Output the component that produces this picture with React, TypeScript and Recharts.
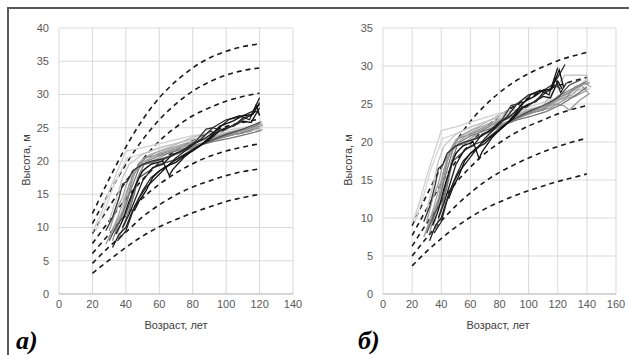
import { LineChart, Line, XAxis, YAxis, CartesianGrid } from "recharts";

type Pt = [number, number];

// site index curves (dashed)
const agesA = [20, 30, 40, 50, 60, 70, 80, 90, 100, 110, 120];
const curvesA: number[][] = [
  [3.1, 5.1, 7.0, 8.7, 10.1, 11.2, 12.2, 13.1, 13.9, 14.5, 15.0],
  [4.6, 7.1, 9.3, 11.6, 13.4, 14.9, 16.1, 17.0, 17.8, 18.4, 18.8],
  [6.1, 9.0, 11.8, 14.4, 16.5, 18.2, 19.6, 20.7, 21.5, 22.1, 22.6],
  [7.6, 11.0, 14.3, 17.2, 19.7, 21.6, 23.1, 24.3, 25.2, 25.8, 26.3],
  [9.1, 13.1, 16.9, 20.2, 23.0, 25.1, 26.8, 28.0, 29.0, 29.7, 30.2],
  [10.6, 15.2, 19.5, 23.2, 26.2, 28.6, 30.5, 31.9, 32.9, 33.6, 34.0],
  [12.1, 17.3, 22.1, 26.2, 29.5, 32.0, 34.0, 35.5, 36.5, 37.2, 37.6],
];

const agesB = [20, 30, 40, 50, 60, 70, 80, 90, 100, 110, 120, 130, 140];
const curvesB: number[][] = [
  [3.7, 5.6, 7.3, 8.8, 10.1, 11.2, 12.1, 12.9, 13.6, 14.2, 14.8, 15.3, 15.8],
  [5.0, 7.4, 9.6, 11.6, 13.3, 14.8, 16.0, 17.0, 17.9, 18.7, 19.4, 20.0, 20.5],
  [6.3, 9.3, 12.1, 14.6, 16.7, 18.5, 19.9, 21.1, 22.1, 22.9, 23.7, 24.3, 24.8],
  [7.7, 11.2, 14.5, 17.4, 19.8, 21.8, 23.4, 24.7, 25.8, 26.7, 27.4, 28.0, 28.5],
  [9.0, 13.0, 16.7, 20.0, 22.7, 24.8, 26.5, 27.9, 29.0, 29.9, 30.7, 31.3, 31.8],
];

// observed height trajectories, panel a
const light1: Pt[] = [[20, 9.3], [25, 12], [30, 15.5], [35, 18.5], [40, 21.5], [50, 22], [60, 22.6], [70, 23.2], [80, 23.8], [90, 24.2], [100, 24.6], [110, 25], [122, 25.3]];
const light2: Pt[] = [[22, 9.5], [28, 13], [33, 16.5], [38, 19], [41, 20.5], [45, 20.7], [55, 21.5], [65, 22.3], [75, 23], [85, 23.6], [95, 24], [105, 24.5], [115, 24.8], [122, 25]];
const light3: Pt[] = [[30, 11], [35, 14.8], [38, 17.5], [42, 19.5], [50, 21], [60, 22], [70, 22.6], [80, 23.3], [90, 23.7], [100, 24.2], [110, 24.6], [122, 24.7]];
const light4: Pt[] = [[35, 9], [40, 13], [45, 18], [50, 20.2], [60, 21.5], [70, 22.5], [80, 23.6], [90, 24.2], [100, 24.3], [110, 24.8], [122, 25.6]];

const mid1: Pt[] = [[30, 8.5], [35, 11.5], [40, 15], [45, 18.5], [50, 20.3], [55, 21], [60, 21.5], [70, 22.2], [80, 23], [90, 23.5], [100, 24], [110, 24.5], [120, 25.2]];
const mid2: Pt[] = [[32, 8], [36, 11], [40, 13.5], [44, 17.5], [48, 19.5], [52, 20.5], [60, 21], [70, 21.8], [80, 22.7], [90, 23.4], [100, 23.9], [110, 24.6], [120, 25.5]];
const mid3: Pt[] = [[28, 7.5], [33, 10], [38, 12.5], [42, 16.5], [46, 18.5], [50, 19.5], [58, 20.2], [68, 21.5], [78, 22.5], [88, 23.2], [98, 23.6], [108, 24.2], [120, 25]];
const mid4: Pt[] = [[34, 9.5], [38, 12], [42, 15], [45, 17], [48, 19], [53, 20], [60, 20.8], [70, 21.5], [80, 22.3], [90, 23], [100, 23.8], [110, 24.2], [121, 25.8]];
const mid5: Pt[] = [[36, 8.5], [40, 11], [44, 14.5], [47, 17.5], [52, 19], [58, 20], [65, 20.5], [75, 21.8], [85, 22.6], [95, 23.3], [105, 24], [115, 24.5], [121, 26]];
const mid6: Pt[] = [[30, 9.5], [34, 12.5], [38, 14.5], [41, 17], [44, 18], [50, 19.8], [60, 21.2], [70, 22], [80, 22.8], [92, 23.5], [102, 24.3], [112, 24.6], [122, 25.4]];
const mid7: Pt[] = [[38, 10], [42, 12.5], [45, 15], [48, 18], [51, 19.5], [56, 19.8], [64, 20.6], [72, 21.2], [82, 22.2], [92, 22.9], [102, 23.4], [112, 24], [121, 24.6]];
const dark1: Pt[] = [[30, 8], [35, 10.5], [40, 12], [44, 15], [48, 17.5], [52, 18.2], [60, 19.5], [70, 20.2], [80, 21.8], [90, 23], [100, 24], [110, 24.8], [120, 25.8]];

const black1: Pt[] = [[32, 7], [36, 9], [40, 10], [44, 12.5], [48, 14.5], [52, 16], [56, 17], [60, 18], [66, 19.5], [72, 20.5], [80, 21.5], [88, 23], [95, 24.5], [100, 25], [105, 25.3], [110, 26.5], [115, 26.8], [120, 29.5]];
const black2: Pt[] = [[35, 8], [40, 9.5], [45, 13], [50, 15.5], [55, 17.5], [60, 18.5], [65, 19.2], [70, 20.5], [78, 22], [85, 23.3], [92, 25], [100, 26.2], [106, 26.5], [112, 27], [116, 27.5], [120, 28.5]];
const black3: Pt[] = [[34, 9], [38, 11], [42, 14], [46, 16.5], [50, 18.5], [55, 19.5], [62, 20], [66, 17.8], [68, 18.7], [75, 20.6], [82, 22], [90, 23.2], [96, 24.5], [104, 25.3], [110, 26], [115, 25.8], [120, 28]];
const black4: Pt[] = [[28, 9.5], [32, 11.5], [36, 14.5], [38, 16.5], [41, 17], [44, 18.5], [50, 19.5], [56, 20], [62, 20.3], [68, 20.8], [75, 21.8], [82, 23], [88, 24.8], [92, 25], [98, 24.5], [105, 25.5], [112, 26.5], [118, 27.5], [120, 27]];
const black5: Pt[] = [[38, 10], [42, 12], [46, 14.5], [50, 17], [56, 19], [62, 19.5], [68, 21], [74, 21.5], [80, 22.5], [88, 23.5], [95, 24.8], [102, 26.3], [108, 26.8], [114, 26.2], [118, 28.5], [120, 26.8]];
const black6: Pt[] = [[45, 12.5], [48, 14], [52, 15.5], [56, 17.5], [60, 18.5], [64, 19.2], [70, 19.8], [76, 21], [84, 22.2], [90, 23.5], [96, 25.2], [104, 26], [110, 26.8], [116, 27], [120, 28.8]];

const upTo = (t: Pt[], age: number) => t.filter((p) => p[0] <= age);

// panel b: same stands, longer records
const light1b: Pt[] = [...upTo(light1, 100), [110, 25.2], [120, 25.8], [130, 26.5], [140, 27.3]];
const light2b: Pt[] = [...upTo(light2, 105), [115, 24.9], [125, 26], [132, 27], [140, 28.3]];
const light3b: Pt[] = [...upTo(light3, 100), [110, 24.6], [120, 25.5], [130, 26.8], [142, 27]];
const light4b: Pt[] = [...upTo(light4, 100), [110, 24.8], [120, 27.5], [125, 28.8], [140, 28.8], [141, 27.5]];
const mid1b: Pt[] = [...upTo(mid1, 100), [110, 24.5], [120, 25.6], [130, 26.2], [138, 27.8], [143, 27.2]];
const mid2b: Pt[] = [...upTo(mid2, 100), [110, 24.6], [120, 25.8], [128, 26.5], [136, 27.5], [141, 26.5]];
const mid3b: Pt[] = [...upTo(mid3, 98), [108, 24.2], [118, 25], [124, 24.8], [128, 24.2], [135, 25.5], [142, 26.4]];
const mid4b: Pt[] = [...upTo(mid4, 100), [110, 24.2], [120, 26], [130, 27], [140, 28]];
const mid5b: Pt[] = [...upTo(mid5, 105), [115, 24.5], [125, 25.6], [132, 27.3], [142, 27.8]];
const mid6b: Pt[] = [...upTo(mid6, 102), [112, 24.6], [122, 25.6], [132, 26], [140, 26.8]];
const mid7b: Pt[] = [...upTo(mid7, 102), [112, 24], [122, 24.9], [131, 26], [140, 27.2]];
const dark1b: Pt[] = [...upTo(dark1, 100), [110, 24.8], [120, 25.8], [128, 27.5], [136, 28.2]];
const black1b: Pt[] = [...upTo(black1, 115), [120, 29.8]];
const black2b: Pt[] = [...upTo(black2, 116), [120, 28.5], [125, 30.2]];
const black3b: Pt[] = [...upTo(black3, 120), [123, 27]];
const black4b: Pt[] = [...upTo(black4, 112), [118, 27.5], [122, 27]];
const black5b: Pt[] = [...upTo(black5, 114), [118, 28.5], [122, 26.5], [126, 27.8]];
const black6b: Pt[] = [...upTo(black6, 110), [116, 27], [121, 29.5], [124, 27.2]];

const tracksA: [Pt[], string][] = [
  [light1, "#d0d0d0"], [light2, "#d6d6d6"], [light3, "#c4c4c4"], [light4, "#bdbdbd"],
  [mid1, "#a6a6a6"], [mid2, "#8c8c8c"], [mid3, "#9a9a9a"], [mid4, "#7f7f7f"],
  [mid5, "#8f8f8f"], [mid6, "#a0a0a0"], [mid7, "#767676"], [dark1, "#4d4d4d"],
  [black1, "#1a1a1a"], [black2, "#262626"], [black3, "#111111"], [black4, "#333333"],
  [black5, "#1f1f1f"], [black6, "#0d0d0d"],
];
const tracksB: [Pt[], string][] = [
  [light1b, "#d0d0d0"], [light2b, "#d6d6d6"], [light3b, "#c4c4c4"], [light4b, "#bdbdbd"],
  [mid1b, "#a6a6a6"], [mid2b, "#8c8c8c"], [mid3b, "#9a9a9a"], [mid4b, "#7f7f7f"],
  [mid5b, "#8f8f8f"], [mid6b, "#a0a0a0"], [mid7b, "#767676"], [dark1b, "#4d4d4d"],
  [black1b, "#1a1a1a"], [black2b, "#262626"], [black3b, "#111111"], [black4b, "#333333"],
  [black5b, "#1f1f1f"], [black6b, "#0d0d0d"],
];

const xTicksA = [0, 20, 40, 60, 80, 100, 120, 140];
const yTicksA = [0, 5, 10, 15, 20, 25, 30, 35, 40];
const xTicksB = [0, 20, 40, 60, 80, 100, 120, 140, 160];
const yTicksB = [0, 5, 10, 15, 20, 25, 30, 35];

const tickStyle = { fill: "#595959", fontSize: 11 };

interface PanelProps {
  left: number;
  width: number;
  marginLeft: number;
  marginRight: number;
  xTicks: number[];
  yTicks: number[];
  ages: number[];
  curves: number[][];
  tracks: [Pt[], string][];
}

function Panel({ left, width, marginLeft, marginRight, xTicks, yTicks, ages, curves, tracks }: PanelProps) {
  return (
    <div style={{ position: "absolute", left, top: 0 }}>
      <LineChart
        width={width}
        height={320}
        margin={{ top: 28, right: marginRight, bottom: 6, left: marginLeft }}
      >
        <CartesianGrid stroke="#d9d9d9" strokeWidth={1} />
        <XAxis
          type="number"
          dataKey="x"
          domain={[0, xTicks[xTicks.length - 1]]}
          ticks={xTicks}
          tick={tickStyle}
          tickLine={false}
          tickMargin={0}
          axisLine={{ stroke: "#bfbfbf" }}
          height={20}
          allowDataOverflow
        />
        <YAxis
          type="number"
          domain={[0, yTicks[yTicks.length - 1]]}
          ticks={yTicks}
          tick={tickStyle}
          tickLine={false}
          tickMargin={4}
          axisLine={false}
          width={30}
        />
        {curves.map((c, i) => (
          <Line
            key={"c" + i}
            data={ages.map((a, j) => ({ x: a, y: c[j] }))}
            dataKey="y"
            type="monotone"
            stroke="#1a1a1a"
            strokeWidth={1.6}
            strokeDasharray="5 4"
            dot={false}
            isAnimationActive={false}
          />
        ))}
        {tracks.map(([t, color], i) => (
          <Line
            key={"t" + i}
            data={t.map(([x, y]) => ({ x, y }))}
            dataKey="y"
            type="linear"
            stroke={color}
            strokeWidth={1.3}
            dot={false}
            isAnimationActive={false}
          />
        ))}
      </LineChart>
    </div>
  );
}

const label: React.CSSProperties = {
  position: "absolute",
  fontSize: 11,
  color: "#404040",
  whiteSpace: "nowrap",
};

const letter: React.CSSProperties = {
  position: "absolute",
  fontFamily: "'Liberation Serif', 'Times New Roman', serif",
  fontWeight: "bold",
  fontStyle: "italic",
  fontSize: 26,
  color: "#000",
  lineHeight: "26px",
};

export default function App() {
  return (
    <div
      style={{
        position: "absolute",
        left: 0,
        top: 0,
        width: 629,
        height: 355,
        background: "#fff",
        overflow: "hidden",
        fontFamily: "'Liberation Sans', Arial, sans-serif",
      }}
    >
      <div
        style={{
          position: "absolute",
          left: 7,
          top: 7,
          width: 630,
          height: 360,
          borderTop: "2px solid #5a5a5a",
          borderLeft: "2px solid #5a5a5a",
        }}
      />
      <Panel left={0} width={320} marginLeft={29} marginRight={27} xTicks={xTicksA} yTicks={yTicksA} ages={agesA} curves={curvesA} tracks={tracksA} />
      <Panel left={320} width={309} marginLeft={33} marginRight={13} xTicks={xTicksB} yTicks={yTicksB} ages={agesB} curves={curvesB} tracks={tracksB} />

      <div style={{ ...label, left: 26, top: 160, transform: "translate(-50%, -50%) rotate(-90deg)" }}>Высота, м</div>
      <div style={{ ...label, left: 348, top: 160, transform: "translate(-50%, -50%) rotate(-90deg)" }}>Высота, м</div>
      <div style={{ ...label, left: 176, top: 325, transform: "translate(-50%, -50%)" }}>Возраст, лет</div>
      <div style={{ ...label, left: 498, top: 325, transform: "translate(-50%, -50%)" }}>Возраст, лет</div>

      <div style={{ ...letter, left: 16, top: 328 }}>а)</div>
      <div style={{ ...letter, left: 358, top: 328 }}>б)</div>
    </div>
  );
}
